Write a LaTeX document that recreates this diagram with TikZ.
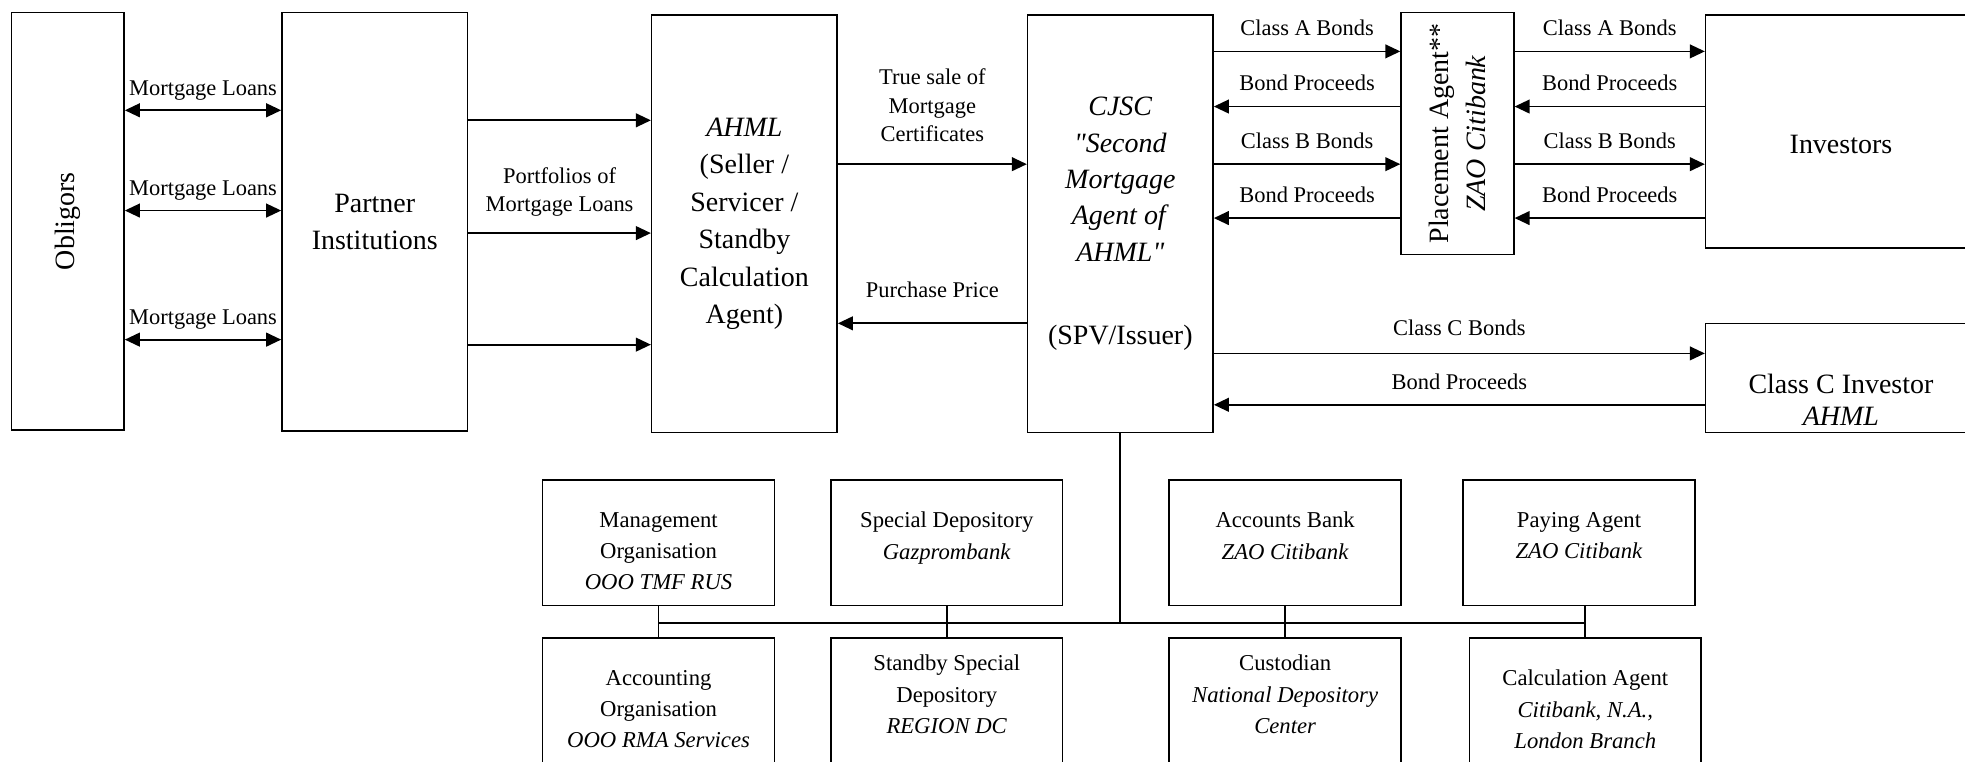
\documentclass[tikz,border=0pt]{standalone}
\usepackage{fontspec}
\setmainfont{Liberation Serif}[Ligatures=TeXOff]
\usetikzlibrary{arrows.meta,positioning}

\tikzset{
  big/.style={font=\fontsize{12.7}{17}\selectfont, align=center},
  blk/.style={draw, line width=0.7pt, big, inner sep=0pt},
  lbl/.style={font=\fontsize{10.2}{13}\selectfont, align=center, inner sep=0.5pt, text depth=2.2pt},
  sub/.style 2 args={draw, line width=0.7pt, minimum width=37mm, minimum height=20mm,
    label={[font=\fontsize{10.3}{14.2}\selectfont, align=center, inner sep=0pt, anchor=north, yshift=#1]north:{#2}}},
  flow/.style={-{Triangle[length=2.4mm,width=2.2mm]}, line width=0.8pt},
  both/.style={{Triangle[length=2.4mm,width=2.2mm]}-{Triangle[length=2.4mm,width=2.2mm]}, line width=0.8pt},
  bus/.style={line width=0.8pt}
}

\begin{document}
\begin{tikzpicture}[x=0.2mm, y=-0.2mm]
\useasboundingbox (0,0) rectangle (1568,608);
\clip (0,0) rectangle (1568,608);

% main chain of parties
\node[blk, rotate=90, minimum width=66.6mm, minimum height=18mm] (obl) at (54,176.5) {Obligors};
\node[blk, minimum width=29.6mm, minimum height=66.8mm] (partner) at (299,177) {Partner\\Institutions};
\node[blk, minimum width=29.6mm, minimum height=66.6mm] (ahml) at (594,178.5)
  {\textit{AHML}\\(Seller /\\Servicer /\\Standby\\Calculation\\Agent)};
\node[blk, minimum width=29.6mm, minimum height=66.6mm, font=\fontsize{12.7}{16.5}\selectfont] (spv) at (894,178.5)
  {\textit{CJSC}\\\textit{"Second}\\\textit{Mortgage}\\\textit{Agent of}\\\textit{AHML"}\\[7.4mm](SPV/Issuer)};
\node[blk, rotate=90, minimum width=38.6mm, minimum height=18mm] (place) at (1163,106.5)
  {Placement Agent**\\\textit{ZAO Citibank}};
\node[draw, line width=0.7pt, minimum width=43.2mm, minimum height=37.2mm,
  label={[big, yshift=-2mm]center:Investors}] (inv) at (1469,105) {};
\node[draw, line width=0.7pt, minimum width=43.2mm, minimum height=17.4mm,
  label={[font=\fontsize{12.7}{14.5}\selectfont, align=center, yshift=-3.5mm]center:{Class C Investor\\\textit{AHML}}}] (classc) at (1469,301.5) {};

% service providers
\node[sub={-5.2mm}{Management\\Organisation\\\textit{OOO TMF RUS}}] (mgmt) at (525.5,433) {};
\node[sub={-5.2mm}{Special Depository\\\textit{Gazprombank}}] (spdep) at (755.5,433) {};
\node[sub={-5.2mm}{Accounts Bank\\\textit{ZAO Citibank}}] (accb) at (1025.5,433) {};
\node[sub={-5.2mm}{Paying Agent\\\textit{ZAO Citibank}}] (pay) at (1260,433) {};
\node[sub={-5.2mm}{Accounting\\Organisation\\\textit{OOO RMA Services}}] (acct) at (525.5,559) {};
\node[sub={-2.8mm}{Standby Special\\Depository\\\textit{REGION DC}}] (stdby) at (755.5,559) {};
\node[sub={-2.8mm}{Custodian\\\textit{National Depository}\\\textit{Center}}] (cust) at (1025.5,559) {};
\node[sub={-5.2mm}{Calculation Agent\\\textit{Citibank, N.A.,}\\\textit{London Branch}}] (calc) at (1265,559) {};

% loans
\foreach \yy in {88,168,271}
  \draw[both] (obl.south |- 0,\yy) -- node[lbl, above=1.3mm] {Mortgage Loans} (partner.west |- 0,\yy);
\foreach \yy in {96,275}
  \draw[flow] (partner.east |- 0,\yy) -- (ahml.west |- 0,\yy);
\draw[flow] (partner.east |- 0,186) -- node[lbl, above=2.3mm] {Portfolios of\\Mortgage Loans} (ahml.west |- 0,186);

% sale
\draw[flow] (ahml.east |- 0,131) -- node[lbl, above=2.5mm] {True sale of\\Mortgage\\Certificates} (spv.west |- 0,131);
\draw[flow] (spv.west |- 0,258) -- node[lbl, above=3mm] {Purchase Price} (ahml.east |- 0,258);

% bonds
\foreach \yy/\txt in {41/Class A Bonds, 131/Class B Bonds} {
  \draw[flow] (spv.east |- 0,\yy) -- node[lbl, above=1.4mm] {\txt} (place.north |- 0,\yy);
  \draw[flow] (place.south |- 0,\yy) -- node[lbl, above=1.4mm] {\txt} (inv.west |- 0,\yy);
}
\foreach \yy in {85,174} {
  \draw[flow] (place.north |- 0,\yy) -- node[lbl, above=1.4mm] {Bond Proceeds} (spv.east |- 0,\yy);
  \draw[flow] (inv.west |- 0,\yy) -- node[lbl, above=1.4mm] {Bond Proceeds} (place.south |- 0,\yy);
}
\draw[flow] (spv.east |- 0,282) -- node[lbl, above=1.8mm] {Class C Bonds} (classc.west |- 0,282);
\draw[flow] (classc.west |- 0,323) -- node[lbl, above=1.4mm] {Bond Proceeds} (spv.east |- 0,323);

% bus to service providers
\coordinate (jn) at (spv.south |- 0,497);
\draw[bus] (spv.south) -- (jn);
\draw[bus] (mgmt.south |- jn) -- (calc.north |- jn);
\foreach \up/\dn in {mgmt/acct, spdep/stdby, accb/cust}
  \draw[bus] (\up.south) -- (\dn.north);
\draw[bus] (calc.north |- pay.south) -- (calc.north);
\end{tikzpicture}
\end{document}
